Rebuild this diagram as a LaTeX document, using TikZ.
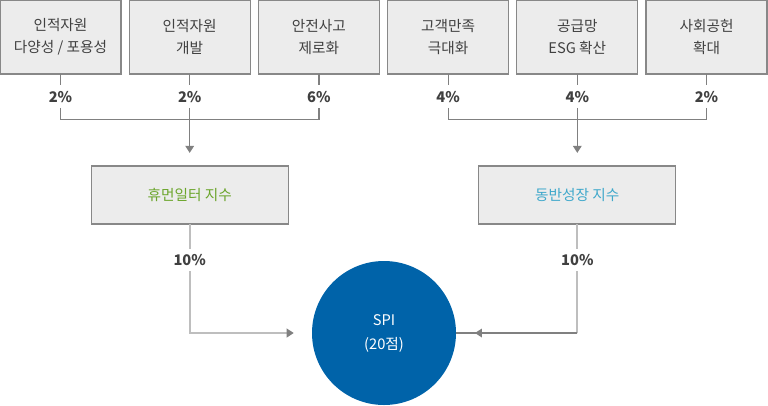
\documentclass[tikz,border=0pt]{standalone}
\usepackage{fontspec}
\setmainfont{Noto Sans CJK KR}
\usepackage{xcolor}
\usepackage{tikz}
\usetikzlibrary{calc,arrows.meta,positioning}
\definecolor{boxfill}{HTML}{ECECEC}
\definecolor{boxline}{HTML}{888888}
\definecolor{txtgray}{HTML}{404040}
\definecolor{linegray}{HTML}{808080}
\definecolor{softgray}{HTML}{BEBEBE}
\definecolor{humgreen}{HTML}{6BA52B}
\definecolor{dongblue}{HTML}{3FA8CB}
\definecolor{spiblue}{HTML}{0063A9}
\tikzset{
  topbox/.style={draw=boxline, line width=1pt, fill=boxfill, align=center, text=txtgray, minimum width=90.75pt, minimum height=55.5pt, inner sep=0pt, outer sep=0pt, font=\fontsize{11pt}{16.5pt}\selectfont},
  midbox/.style={draw=boxline, line width=1pt, fill=boxfill, align=center, minimum width=147.75pt, minimum height=43.5pt, inner sep=0pt, outer sep=0pt, font=\fontsize{11pt}{16.5pt}\selectfont},
  pct/.style={inner sep=0pt, minimum height=16.5pt, text=txtgray, font=\fontsize{11pt}{13pt}\selectfont\bfseries},
  spi_c/.style={circle, fill=spiblue, text=white, align=center, minimum size=108pt, inner sep=0pt, font=\fontsize{11pt}{18pt}\selectfont},
  wire/.style={draw=linegray, line width=0.9pt},
  softwire/.style={draw=softgray, line width=1.5pt},
  tip/.style={-{Triangle[length=5.25pt, width=6.5pt, color=linegray]}}
}
\begin{document}
\begin{tikzpicture}[x=0.75pt, y=-0.75pt]
	\useasboundingbox (0,0) rectangle (768,405);
	% top row
	\node [topbox] (t1) at (60.5,37) {인적자원\\다양성 / 포용성};
	\node [topbox, right=6.15pt of t1] (t2) {인적자원\\개발};
	\node [topbox, right=6.15pt of t2] (t3) {안전사고\\제로화};
	\node [topbox, right=6.15pt of t3] (t4) {고객만족\\극대화};
	\node [topbox, right=6.15pt of t4] (t5) {공급망\\ESG 확산};
	\node [topbox, right=6.15pt of t5] (t6) {사회공헌\\확대};
	% weights
	\node [pct, below=8.5pt of t1] (p1) {2\%};
	\node [pct, below=8.5pt of t2] (p2) {2\%};
	\node [pct, below=8.5pt of t3] (p3) {6\%};
	\node [pct, below=8.5pt of t4] (p4) {4\%};
	\node [pct, below=8.5pt of t5] (p5) {4\%};
	\node [pct, below=8.5pt of t6] (p6) {2\%};
	% index boxes
	\node [midbox, text=humgreen, below=43.5pt of p2] (hum) {휴먼일터 지수};
	\node [midbox, text=dongblue, below=43.5pt of p5] (dong) {동반성장 지수};
	\node [pct, below=18.75pt of hum] (q1) {10\%};
	\node [pct, below=18.75pt of dong] (q2) {10\%};
	\node [spi_c] (spi) at (384,333) {SPI\\(20점)};
	\coordinate (rcorner) at (q2.south |- spi.east);
	% connectors
	\foreach \t/\p in {t1/p1,t2/p2,t3/p3,t4/p4,t5/p5,t6/p6}
		\draw [wire] (\t.south) -- (\p.north);
	\draw [wire] (p1.south) -- ++(0,-9pt) -| (p3.south);
	\draw [wire] (p4.south) -- ++(0,-9pt) -| (p6.south);
	\draw [wire, tip, shorten >=9.75pt] (p2.south) -- (hum.north);
	\draw [wire, tip, shorten >=9.75pt] (p5.south) -- (dong.north);
	\draw [softwire] (hum.south) -- (q1.north);
	\draw [softwire] (dong.south) -- (q2.north);
	\draw [softwire, tip, shorten >=13.5pt] (q1.south) |- (spi.west);
	\draw [softwire] (q2.south) -- (rcorner);
	\draw [wire] (rcorner) -- (spi.east);
	\draw [wire, tip, shorten >=14pt] (rcorner) -- (spi.east);
\end{tikzpicture}
\end{document}
